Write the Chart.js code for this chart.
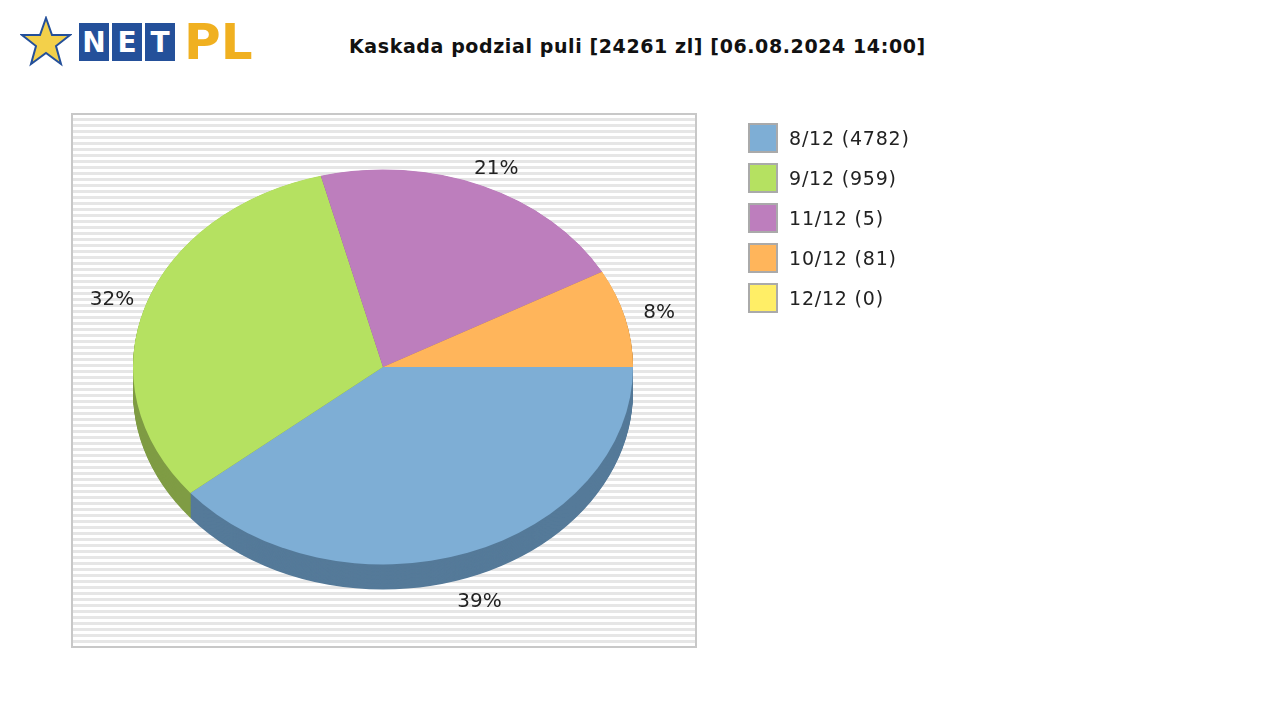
<!DOCTYPE html>
<html><head><meta charset="utf-8">
<script src="https://cdn.jsdelivr.net/npm/chart.js@4"></script>
<style>
body{margin:0;width:1280px;height:720px;background:#fff;font-family:"DejaVu Sans",sans-serif;position:relative;overflow:hidden}
#plot{position:absolute;left:71px;top:113px;width:622px;height:531px;border:2px solid #c8c8c8;
 background:repeating-linear-gradient(#fff 0 3px,#e6e6e6 3px 6px)}
#title{position:absolute;left:349px;top:35px;font-weight:bold;font-size:19px;letter-spacing:0.6px;color:#111}
#logo{position:absolute;left:20px;top:12px;height:60px;display:flex;align-items:center;gap:3px}
.sq{width:30px;height:38px;background:#24509a;color:#fff;font-weight:bold;font-size:28px;display:flex;align-items:center;justify-content:center}
#pl{color:#f0b020;font-weight:bold;font-size:50px;margin-left:6px;font-family:"DejaVu Sans"}
#star{width:52px;height:52px;margin-right:4px}
canvas{position:absolute;left:0;top:0}
#legend{position:absolute;left:748px;top:118px;font-size:19px;letter-spacing:0.8px;color:#222}
.li{display:flex;align-items:center;height:40px}
.bx{width:30px;height:30px;border:2px solid #aaa;box-sizing:border-box;margin-right:11px}
</style></head><body>
<div id="logo"><svg id="star" viewBox="0 0 52 52"><polygon points="26,2 32,19 50,19 36,30 41,48 26,37 11,48 16,30 2,19 20,19" fill="#f3d04a" stroke="#24509a" stroke-width="2"/></svg><div class="sq">N</div><div class="sq">E</div><div class="sq">T</div><span id="pl">PL</span></div>
<div id="title">Kaskada podzial puli [24261 zl] [06.08.2024 14:00]</div>
<div id="plot"></div>
<canvas id="c" width="1280" height="720"></canvas>
<div id="legend"></div>
<script>
const labels = ["8/12 (4782)", "9/12 (959)", "11/12 (5)", "10/12 (81)", "12/12 (0)"];
const shares = [39, 32, 21, 8, 0];
const colors = ["#7eaed5", "#b5e161", "#bd7ebd", "#ffb55b", "#ffee66"];
const sideColors = ["#557a99", "#7f9c44", "#875a87", "#b5813f", "#b5a848"];

const SY = 0.79, DEPTH = 25;

document.getElementById("legend").innerHTML = labels.map((l, i) =>
  `<div class="li"><div class="bx" style="background:${colors[i]}"></div>${l}</div>`).join("");

const pie3d = {
  id: "pie3d",
  beforeDatasetsDraw(chart) {
    const ctx = chart.ctx;
    const arcs = chart.getDatasetMeta(0).data;
    const cx = arcs[0].x, cy = arcs[0].y;
    ctx.save();
    ctx.translate(cx, cy); ctx.scale(1, SY); ctx.translate(-cx, -cy);
    // side walls
    for (let d = DEPTH / SY; d > 0; d -= 1) {
      arcs.forEach((a, i) => {
        if (a.endAngle - a.startAngle <= 0) return;
        ctx.beginPath();
        ctx.moveTo(a.x, a.y + d);
        ctx.arc(a.x, a.y + d, a.outerRadius, a.startAngle, a.endAngle);
        ctx.closePath();
        ctx.fillStyle = sideColors[i];
        ctx.fill();
      });
    }
  },
  afterDatasetsDraw(chart) {
    const ctx = chart.ctx;
    ctx.restore();
    const arcs = chart.getDatasetMeta(0).data;
    ctx.save();
    ctx.font = "20px 'DejaVu Sans'";
    ctx.fillStyle = "#222";
    ctx.textAlign = "center"; ctx.textBaseline = "middle";
    arcs.forEach((a, i) => {
      if (!shares[i]) return;
      const m = (a.startAngle + a.endAngle) / 2, r = a.outerRadius + 35;
      let x = a.x + r * Math.cos(m), y = a.y + (a.outerRadius + 24) * Math.sin(m) * SY;
      if (Math.sin(m) > 0.3) y += DEPTH + 6;
      ctx.fillText(shares[i] + "%", x, y);
    });
    ctx.restore();
  }
};

new Chart(document.getElementById("c"), {
  type: "pie",
  data: { labels, datasets: [{ data: shares, backgroundColor: colors, borderWidth: 0 }] },
  options: {
    responsive: false, animation: false, rotation: 90,
    layout: { padding: { left: 133, right: 647, top: 117, bottom: 103 } },
    plugins: { legend: { display: false }, tooltip: { enabled: false } }
  },
  plugins: [pie3d]
});
</script>
</body></html>
